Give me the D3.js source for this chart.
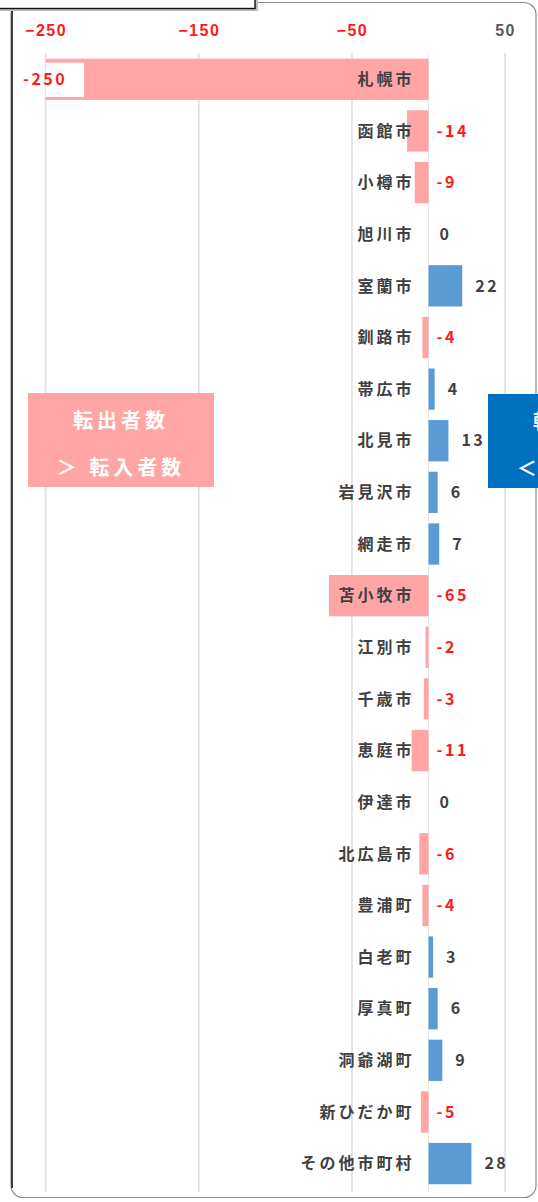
<!DOCTYPE html>
<html>
<head>
<meta charset="utf-8">
<script src="https://cdn.jsdelivr.net/npm/d3@7"></script>
<style>
  html, body { margin: 0; padding: 0; background: #fff; overflow: hidden; }
  svg { display: block; font-family: "Noto Sans CJK JP", "Noto Sans", sans-serif; }
</style>
</head>
<body>
<script>
const cities = ['札幌市', '函館市', '小樽市', '旭川市', '室蘭市', '釧路市', '帯広市', '北見市', '岩見沢市', '網走市',
  '苫小牧市', '江別市', '千歳市', '恵庭市', '伊達市', '北広島市', '豊浦町', '白老町', '厚真町', '洞爺湖町',
  '新ひだか町', 'その他市町村'];
const netMigration = [-250, -14, -9, 0, 22, -4, 4, 13, 6, 7, -65, -2, -3, -11, 0, -6, -4, 3, 6, 9, -5, 28];
const tickValues = [-250, -150, -50, 50];
const legendOut = ['転出者数', '＞ 転入者数'];
const legendIn = ['転出者数', '＜ 転入者数'];

const width = 538;
const height = 1202;
const pink = '#ffa5a5';
const blue = '#5b9bd5';

const svg = d3.select('body').append('svg')
  .attr('width', width)
  .attr('height', height);

// frame
svg.append('rect')
  .attr('x', 11).attr('y', 2.5)
  .attr('width', 525).attr('height', 1195)
  .attr('rx', 12).attr('ry', 12)
  .attr('fill', '#fff')
  .attr('stroke', '#8c8c8c')
  .attr('stroke-width', 1.2);
svg.append('line')
  .attr('x1', 12).attr('x2', 12)
  .attr('y1', 10).attr('y2', 1188)
  .attr('stroke', '#404040')
  .attr('stroke-width', 2);

// box at top-left corner
svg.append('rect')
  .attr('x', -4).attr('y', -10)
  .attr('width', 262).attr('height', 21)
  .attr('fill', '#bdbdbd');
svg.append('rect')
  .attr('x', -4).attr('y', -10)
  .attr('width', 259).attr('height', 18.5)
  .attr('fill', '#fff')
  .attr('stroke', '#111')
  .attr('stroke-width', 1.4);

const x = d3.scaleLinear()
  .domain([-250, 50])
  .range([45.6, 505.1]);

const y = d3.scaleBand()
  .domain(cities)
  .range([53.5, 1189.4])
  .paddingInner(0.2)
  .paddingOuter(0.1);

// gridlines
svg.append('g')
  .selectAll('line')
  .data(tickValues)
  .join('line')
  .attr('x1', d => x(d)).attr('x2', d => x(d))
  .attr('y1', 53).attr('y2', 1192)
  .attr('stroke', '#dedede')
  .attr('stroke-width', 1.6);

svg.append('line')
  .attr('x1', x(0)).attr('x2', x(0))
  .attr('y1', 53).attr('y2', 1192)
  .attr('stroke', '#e6e6e6')
  .attr('stroke-width', 1);

// axis on top
const xAxis = d3.axisTop(x)
  .tickValues(tickValues)
  .tickSize(0)
  .tickPadding(0);

svg.append('g')
  .attr('transform', 'translate(0, 36)')
  .call(xAxis)
  .call(g => g.select('.domain').remove())
  .call(g => g.selectAll('text')
    .attr('y', 0)
    .attr('dy', 0)
    .attr('fill', d => d < 0 ? '#ff1a1a' : '#595959')
    .style('font-size', '16px')
    .style('font-weight', 'bold')
    .style('letter-spacing', '1.5px'));

// bars
svg.append('g')
  .selectAll('rect')
  .data(cities)
  .join('rect')
  .attr('x', (d, i) => x(Math.min(0, netMigration[i])))
  .attr('y', d => y(d))
  .attr('width', (d, i) => Math.abs(x(netMigration[i]) - x(0)))
  .attr('height', y.bandwidth())
  .attr('fill', (d, i) => netMigration[i] < 0 ? pink : blue);

// category labels
svg.append('g')
  .selectAll('text')
  .data(cities)
  .join('text')
  .attr('x', x(0) - 14)
  .attr('y', d => y(d) + y.bandwidth() / 2)
  .attr('dy', '0.36em')
  .attr('text-anchor', 'end')
  .attr('fill', '#404040')
  .style('font-size', '16px')
  .style('font-weight', 'bold')
  .style('letter-spacing', '3px')
  .text(d => d);

// value labels
const valueX = (v) => {
  if (v === -250) return 23;
  if (v < 0) return x(0) + 8;
  if (v === 0) return x(0) + 11;
  return x(v) + 13;
};

const first = cities[0];
svg.append('rect')
  .attr('x', x(-250))
  .attr('y', y(first) + 4)
  .attr('width', 84 - x(-250))
  .attr('height', y.bandwidth() - 7)
  .attr('fill', '#fff');

svg.append('g')
  .selectAll('text')
  .data(cities)
  .join('text')
  .attr('x', (d, i) => valueX(netMigration[i]))
  .attr('y', d => y(d) + y.bandwidth() / 2)
  .attr('dy', '0.36em')
  .attr('fill', (d, i) => netMigration[i] < 0 ? '#ff1a1a' : '#404040')
  .style('font-size', '16px')
  .style('font-weight', 'bold')
  .style('letter-spacing', '2.5px')
  .text((d, i) => netMigration[i]);

// legend boxes
const legend = [
  { lines: legendOut, x: 28, y: 393, fill: pink },
  { lines: legendIn, x: 488, y: 394, fill: '#0070c0' }
];

legend.forEach(l => {
  const g = svg.append('g').attr('transform', `translate(${l.x}, ${l.y})`);
  g.append('rect')
    .attr('width', 186).attr('height', 94)
    .attr('fill', l.fill);
  g.selectAll('text')
    .data(l.lines)
    .join('text')
    .attr('x', 93)
    .attr('y', (d, i) => 28 + i * 47)
    .attr('dy', '0.36em')
    .attr('text-anchor', 'middle')
    .attr('fill', '#fff')
    .style('font-size', '20px')
    .style('font-weight', 'bold')
    .style('letter-spacing', '4px')
    .text(d => d);
});
</script>
</body>
</html>
